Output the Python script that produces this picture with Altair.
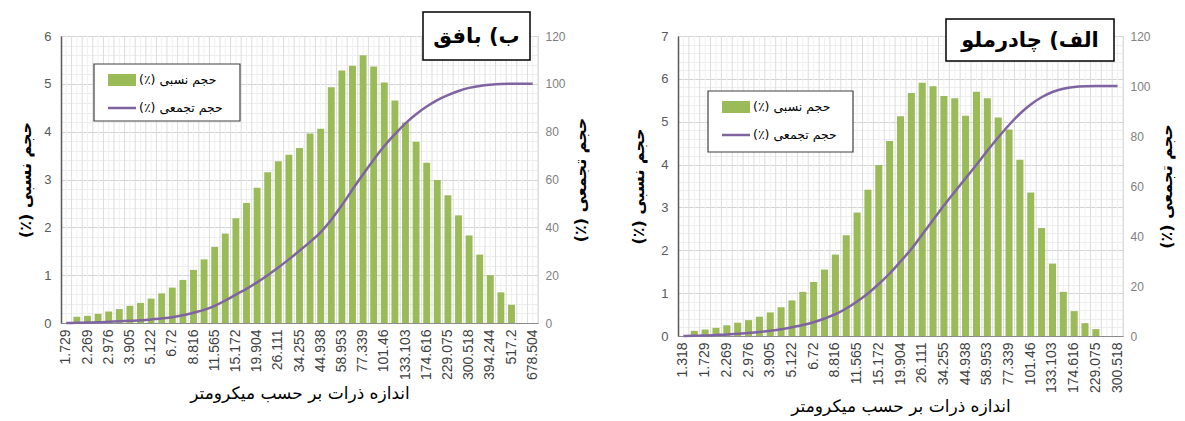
import altair as alt
import pandas as pd

# ---------- data: Bafq (left panel) ----------
bafq_sizes = ["1.729", "1.981", "2.269", "2.599", "2.976", "3.409", "3.905", "4.472",
              "5.122", "5.867", "6.72", "7.697", "8.816", "10.097", "11.565", "13.246",
              "15.172", "17.377", "19.904", "22.797", "26.111", "29.907", "34.255",
              "39.234", "44.938", "51.471", "58.953", "67.523", "77.339", "88.583",
              "101.46", "116.21", "133.103", "152.453", "174.616", "200", "229.075",
              "262.376", "300.518", "344.206", "394.244", "451.556", "517.2", "592.387",
              "678.504"]
bafq_relative = [0, 0.13, 0.15, 0.19, 0.24, 0.29, 0.36, 0.42, 0.51, 0.62,
                 0.74, 0.90, 1.11, 1.33, 1.59, 1.87, 2.19, 2.51, 2.83, 3.15,
                 3.38, 3.52, 3.66, 3.96, 4.06, 4.93, 5.28, 5.38, 5.60, 5.36,
                 5.03, 4.65, 4.19, 3.79, 3.35, 2.99, 2.67, 2.25, 1.83, 1.43,
                 1.00, 0.64, 0.38, 0, 0]
bafq_cumulative = [0, 0.1, 0.2, 0.3, 0.5, 0.7, 0.9, 1.1, 1.5, 1.9,
                   2.4, 3.2, 4.3, 5.5, 7.2, 9.4, 11.9, 14.3, 17.0, 20.0,
                   23.2, 26.6, 30.2, 33.9, 38.0, 43.2, 49.2, 55.8, 62.2, 68.3,
                   74.0, 79.0, 83.5, 87.3, 90.5, 93.2, 95.3, 97.0, 98.3, 99.1,
                   99.6, 99.9, 100, 100, 100]

# ---------- data: Chadormalu (right panel) ----------
chad_sizes = ["1.318", "1.51", "1.729", "1.981", "2.269", "2.599", "2.976", "3.409",
              "3.905", "4.472", "5.122", "5.867", "6.72", "7.697", "8.816", "10.097",
              "11.565", "13.246", "15.172", "17.377", "19.904", "22.797", "26.111",
              "29.907", "34.255", "39.234", "44.938", "51.471", "58.953", "67.523",
              "77.339", "88.583", "101.46", "116.21", "133.103", "152.453", "174.616",
              "200", "229.075", "262.376", "300.518"]
chad_relative = [0, 0.12, 0.15, 0.19, 0.25, 0.31, 0.37, 0.45, 0.55, 0.67,
                 0.83, 1.03, 1.26, 1.55, 1.90, 2.35, 2.88, 3.41, 3.99, 4.55,
                 5.13, 5.67, 5.91, 5.83, 5.60, 5.55, 5.14, 5.70, 5.55, 5.10,
                 4.82, 4.11, 3.35, 2.52, 1.69, 1.03, 0.58, 0.30, 0.16, 0, 0]
chad_cumulative = [0, 0.1, 0.2, 0.4, 0.6, 0.9, 1.2, 1.6, 2.1, 2.7,
                   3.5, 4.4, 5.5, 7.0, 8.7, 11.0, 13.8, 17.0, 20.8, 25.0,
                   29.8, 34.8, 40.6, 46.4, 52.2, 57.7, 63.1, 68.5, 74.1, 79.4,
                   84.4, 88.9, 92.6, 95.5, 97.6, 98.9, 99.6, 99.9, 100, 100, 100]

REL = "(٪) حجم نسبی"
CUM = "(٪) حجم تجمعی"
XTITLE = "اندازه ذرات بر حسب میکرومتر"
FA = "DejaVu Sans"
GREEN = "#9bbb59"
PURPLE = "#8064a2"

one = pd.DataFrame({"k": [0]})


def deco_rect(x, x2, y, y2, fill, stroke=None, sw=1.0):
    kw = dict(fill=fill)
    if stroke is not None:
        kw.update(stroke=stroke, strokeWidth=sw)
    return alt.Chart(one).mark_rect(**kw).encode(
        x=alt.value(x), x2=alt.value(x2), y=alt.value(y), y2=alt.value(y2))


def deco_text(txt, x, y, size, weight="normal", align="left"):
    return alt.Chart(one).mark_text(text=txt, font=FA, fontSize=size, fontWeight=weight,
                                    align=align, baseline="middle", color="black").encode(
        x=alt.value(x), y=alt.value(y))


def deco_rule(x, x2, y, color, sw):
    return alt.Chart(one).mark_rule(color=color, strokeWidth=sw).encode(
        x=alt.value(x), x2=alt.value(x2), y=alt.value(y))


def panel(sizes, rel, cum, ymax, w, h, name, tbox, lbox, ltp, rtp):
    df = pd.DataFrame({"size": sizes, "rel": rel, "cum": cum})
    step = w / len(sizes)
    xaxis = alt.Axis(values=sizes[::2], labelAngle=270, labelFont="Liberation Sans",
                     labelFontSize=14, labelColor="#404040", labelPadding=6,
                     labelOverlap=False, ticks=False, grid=False, domainColor="#8c8c8c",
                     title=XTITLE, titleFont=FA, titleFontSize=17,
                     titleFontWeight="normal", titleColor="black", titlePadding=6)

    def X(bp=None):
        kw = {}
        if bp is not None:
            kw["bandPosition"] = bp
        return alt.X("size:N", sort=None,
                     scale=alt.Scale(paddingInner=0.35, paddingOuter=0.175),
                     axis=xaxis, **kw)

    yvals = [round(i * 0.2, 1) for i in range(int(ymax * 5) + 1)]
    left_axis = alt.Axis(values=yvals,
                         labelExpr="datum.value % 1 === 0 ? format(datum.value, 'd') : ''",
                         labelOverlap=False, ticks=False,
                         gridColor={"condition": {"test": "datum.value % 1 === 0",
                                                  "value": "#d4d4d4"},
                                    "value": "#eeeeee"},
                         domainColor="#595959", domainWidth=1.5,
                         labelColor="#595959", labelFontSize=13, labelFont="Liberation Sans",
                         labelPadding=10, title=REL, titleFont=FA, titleFontSize=16,
                         titleFontWeight="bold", titleColor="black", titlePadding=ltp)
    right_axis = alt.Axis(values=list(range(0, 121, 20)), orient="right", grid=False,
                          ticks=False, domain=False, labelColor="#808080", labelFontSize=12,
                          labelFont="Liberation Sans", labelPadding=7, title=CUM,
                          titleFont=FA, titleFontSize=16, titleFontWeight="bold",
                          titleColor="black", titleAngle=270, titleBaseline="top",
                          titlePadding=rtp)

    base = alt.Chart(df)
    vmajor = base.mark_rule(color="#dcdcdc", strokeWidth=1,
                            xOffset=round(step * 0.175, 2)).encode(x=X(1))
    vminor = base.mark_rule(color="#f0f0f0", strokeWidth=1).encode(x=X(0.5))
    bars = base.mark_bar(color=GREEN).encode(
        x=X(), y=alt.Y("rel:Q", scale=alt.Scale(domain=[0, ymax], nice=False), axis=left_axis))
    line = base.mark_line(color=PURPLE, strokeWidth=2.5, interpolate="monotone").encode(
        x=X(), y=alt.Y("cum:Q", scale=alt.Scale(domain=[0, 120], nice=False), axis=right_axis))

    tx, tx2, ty, ty2 = tbox
    lx, lx2, ly, ly2 = lbox
    decor = [
        deco_rect(tx, tx2, ty, ty2, "white", "black", 1.5),
        deco_text(name, (tx + tx2) / 2, (ty + ty2) / 2 + 1, 21, "bold", "center"),
        deco_rect(lx, lx2, ly, ly2, "white", "#404040", 1.2),
        deco_rect(lx + 14, lx + 42, ly + 10, ly + 22, GREEN),
        deco_text(REL, lx + 45, ly + 16, 12.5),
        deco_rule(lx + 14, lx + 42, ly + 44, PURPLE, 2.5),
        deco_text(CUM, lx + 45, ly + 44, 12.5),
    ]
    return alt.layer(vmajor, vminor, bars, line, *decor).resolve_scale(
        y="independent").properties(width=w, height=h)


left = panel(bafq_sizes, bafq_relative, bafq_cumulative, 6, 477, 287, "ب) بافق",
             (362, 469, -24, 24), (33, 179, 28, 85), 10, 7)
right = panel(chad_sizes, chad_relative, chad_cumulative, 7, 445, 300, "الف) چادرملو",
              (268, 436, -17, 25), (30, 175, 55, 116), 14, 8)

chart = alt.hconcat(left, right, spacing=41).properties(
    padding={"left": 9, "top": 2, "right": 2, "bottom": 0}
).configure_view(stroke="#8c8c8c", strokeWidth=1).configure(background="white")

chart.save("out.html", embed_options={"renderer": "svg", "actions": False})
